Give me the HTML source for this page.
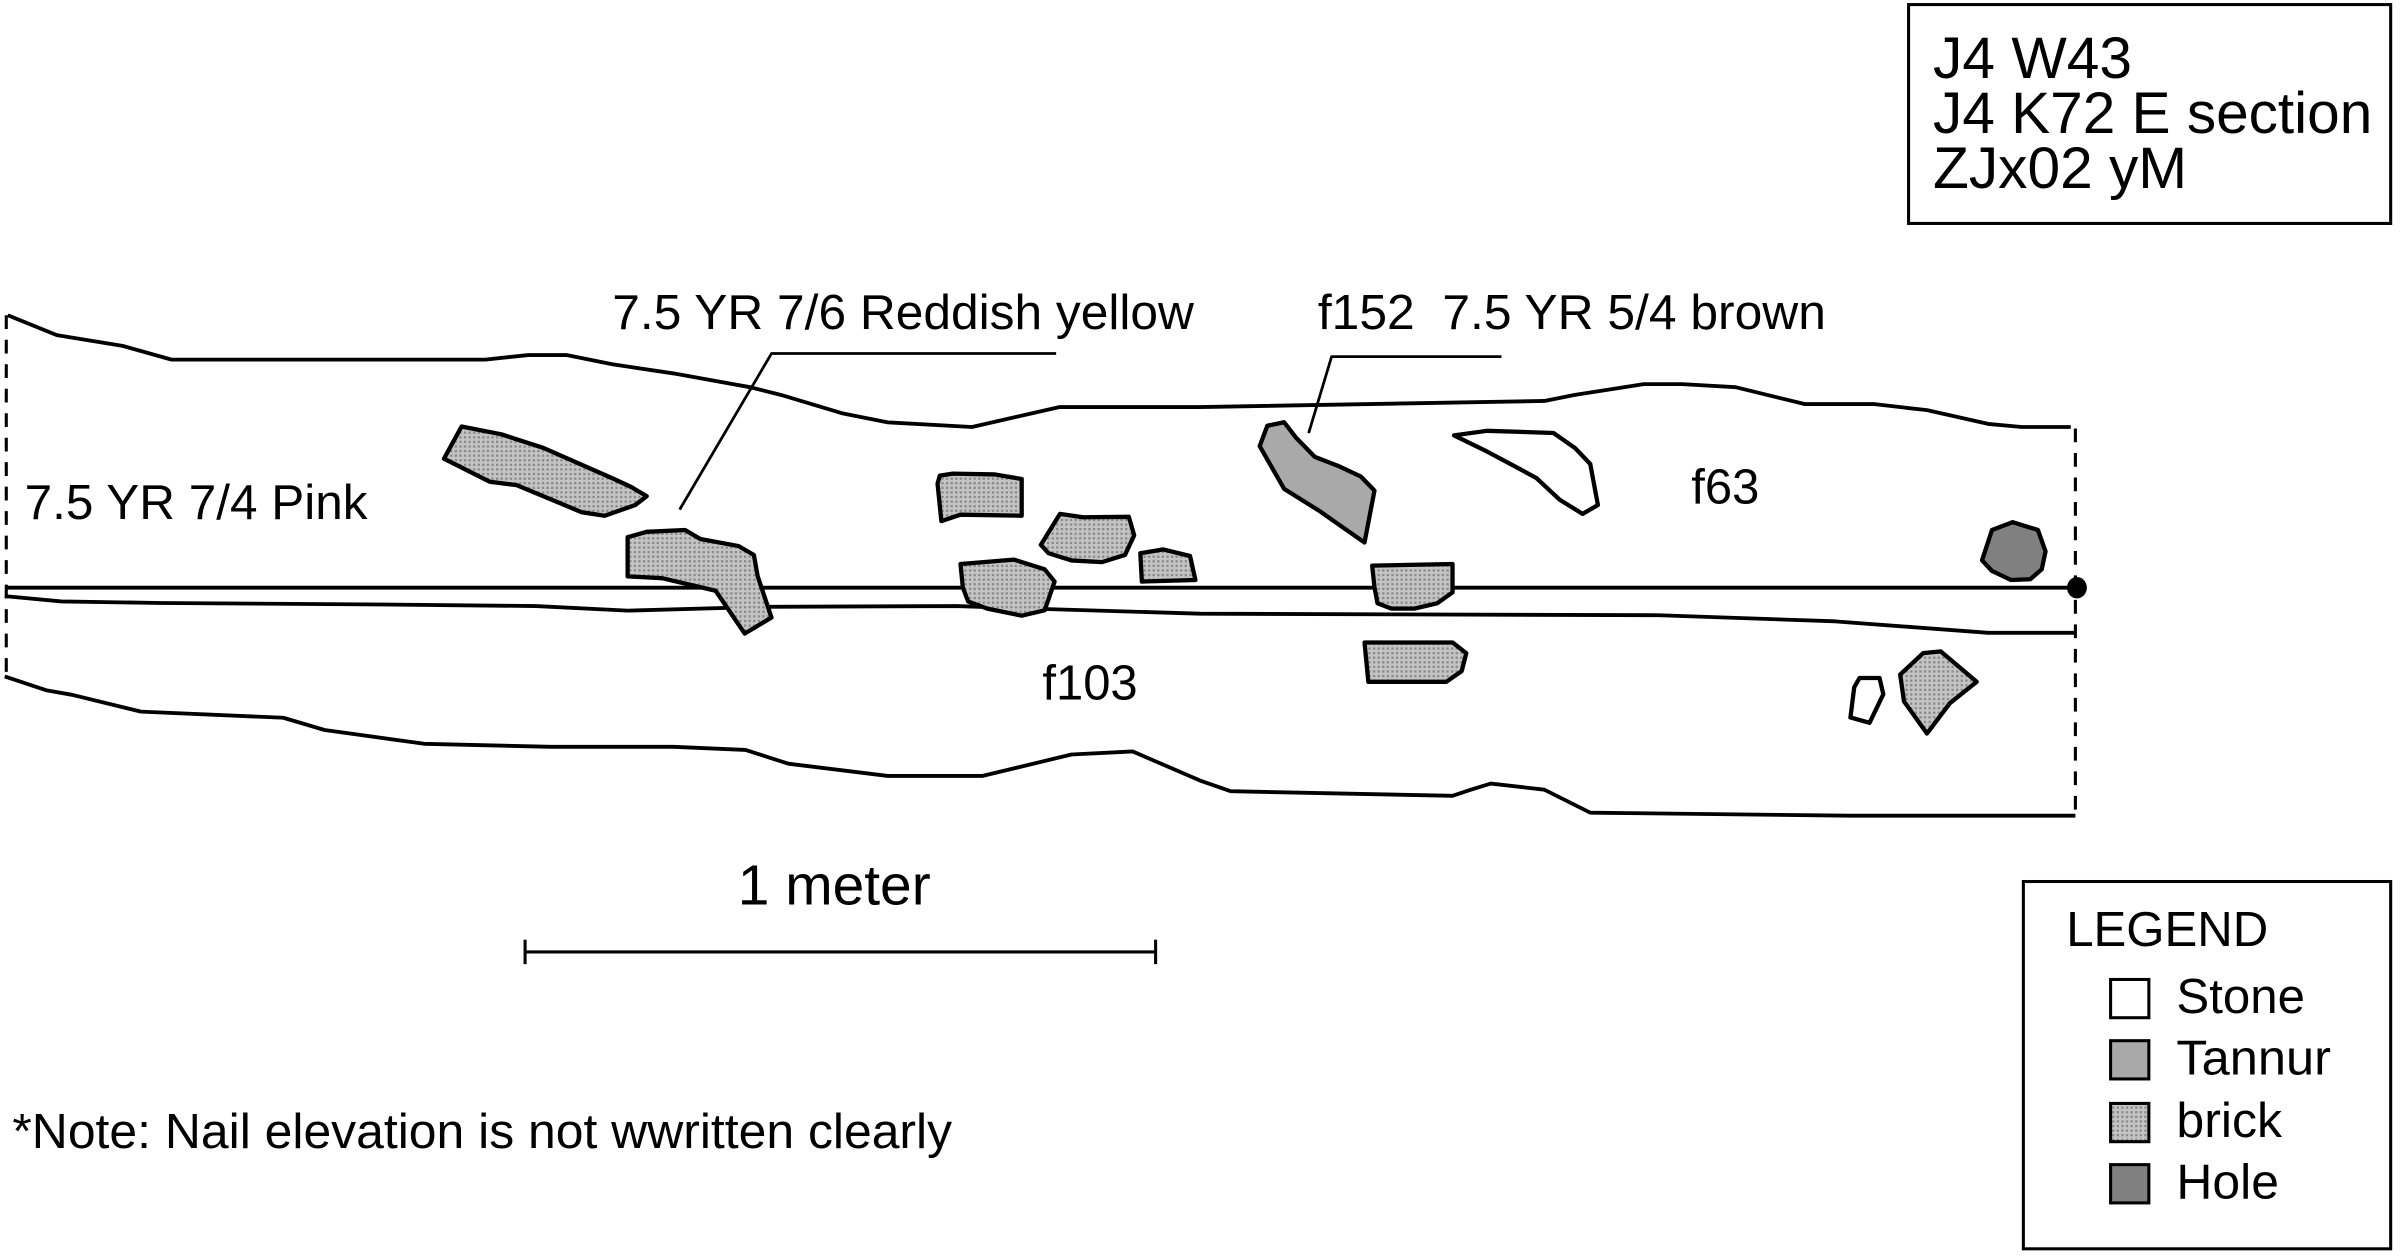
<!DOCTYPE html>
<html><head><meta charset="utf-8"><style>
html,body{margin:0;padding:0;background:#fff;}
svg{display:block;}
text{font-family:"Liberation Sans",Arial,sans-serif;fill:#000;}
</style></head><body>
<svg width="2400" height="1258" viewBox="0 0 1568 822" xmlns="http://www.w3.org/2000/svg">
<defs>
<pattern id="st" width="3" height="3" patternUnits="userSpaceOnUse">
<rect width="3" height="3" fill="#c4c4c4"/><rect width="1.5" height="1.5" fill="#8a8a8a"/>
</pattern>
</defs>
<g fill="none" stroke="#000" stroke-width="2.5" stroke-linejoin="round">
<polyline points="5,206 37,219 80,226 112,235 317,235 345,232 370,232 400,238 440,244 490,253 510,258 550,270 580,276 635,279 692,266 784,266 1009,262 1029,258 1074,251 1099,251 1134,253 1179,264 1224,264 1259,268 1299,277 1321,279 1353,279"/>
<line x1="4" y1="384" x2="1354" y2="384"/>
<polyline points="3,389.5 40,393 105,394 250,395 350,396 410,399 500,396.5 625,396 685,398 784,401 1084,402 1199,406 1299,413.5 1356,413.5"/>
<polyline points="3,442 30,451 47,454 92,465 185,469 212,477 277,486 360,488 440,488 487,490 515,499 580,507 642,507 700,493 740,491 784,510 804,517 949,520 961,516 974,512 1009,516 1039,531 1209,533 1356,533"/>
<polyline points="690,231 504,231 444,333" stroke-width="1.8"/>
<polyline points="981,233 870,233 855,283" stroke-width="1.8"/>
</g>
<g fill="none" stroke="#000" stroke-width="2" stroke-dasharray="9,7">
<line x1="4" y1="206" x2="4" y2="446"/>
<line x1="1356" y1="280" x2="1356" y2="535"/>
</g>
<ellipse cx="1357" cy="384" rx="6.5" ry="7" fill="#000"/>
<g stroke="#000" stroke-width="2.8" stroke-linejoin="round">
<polygon fill="url(#st)" points="301.5,278.7 327.5,283.8 355,292.7 400,312.5 412.5,318.3 422.5,324.2 415,330 395,337 380,334.7 337.5,317 320,314.8 290,299.7"/>
<polygon fill="url(#st)" points="410,351 422.5,347.5 447.5,346.3 457.5,352.2 482.5,356.8 492.5,362.6 495,376.6 504,403.5 486.5,414 467.5,386 432.5,377.8 410,376.6"/>
<polygon fill="url(#st)" points="614,310.8 622.5,309.5 650,310 667.5,313 667.5,337 627.5,336.3 615,340.5 612.5,316"/>
<polygon fill="url(#st)" points="692.5,335.8 707.5,338 737.5,337.7 741,349.8 735,362.6 720,367.3 700,366.2 685,361.5 680,356"/>
<polygon fill="url(#st)" points="745,361.5 760,359 777.5,363.3 781,379 746,380"/>
<polygon fill="url(#st)" points="627.5,368.5 662.5,365.7 682.5,372 689,380 682.5,398.8 667.5,402.3 645,397.7 632.5,393 629,383.7"/>
<polygon fill="#a9a9a9" points="828,278.2 839,275.9 846.5,285.7 859,298.5 874,304.3 889,311.3 898,320.6 891.5,354.5 876.5,344 861.5,333.5 839,319.5 823,291.5"/>
<polygon fill="#fff" points="950,284.5 971.5,281.5 1015,282.9 1029,292.7 1039,303.2 1044,330 1034,335.8 1019,326.5 1004,312.5 989,304.3 971.5,295"/>
<polygon fill="#808080" points="1315,341.2 1331.5,346.3 1336.5,360.3 1334,372 1326.5,378.5 1314,379 1301.5,373.1 1295,366.1 1301.5,346.3"/>
<polygon fill="url(#st)" points="896.5,369.6 949,368.5 949,387.1 939,394.2 924,397.7 909,397.7 900,394.2 898,383.7"/>
<polygon fill="url(#st)" points="891.5,419.8 949,419.8 958,426.8 955,438.5 945,445.5 894,445.5"/>
<polygon fill="#fff" points="1215,443 1228,443 1230.5,453.6 1221.5,472.3 1209,468.8 1211.5,449"/>
<polygon fill="url(#st)" points="1256.5,426.8 1268,425.6 1291.5,445.5 1274,459.5 1259,479.3 1244,458.3 1241.5,440.8"/>
</g>
<rect x="1247" y="3" width="315" height="143" fill="none" stroke="#000" stroke-width="2"/>
<text x="1263" y="51" font-size="38" textLength="130" lengthAdjust="spacingAndGlyphs">J4 W43</text>
<text x="1263" y="87" font-size="38" textLength="287" lengthAdjust="spacingAndGlyphs">J4 K72 E section</text>
<text x="1263" y="123" font-size="38" textLength="166" lengthAdjust="spacingAndGlyphs">ZJx02 yM</text>
<text x="400" y="215" font-size="32" textLength="380" lengthAdjust="spacingAndGlyphs">7.5 YR 7/6 Reddish yellow</text>
<text x="861" y="215" font-size="32" xml:space="preserve" textLength="332" lengthAdjust="spacingAndGlyphs">f152  7.5 YR 5/4 brown</text>
<text x="16" y="339" font-size="32" textLength="224" lengthAdjust="spacingAndGlyphs">7.5 YR 7/4 Pink</text>
<text x="1105" y="329" font-size="32">f63</text>
<text x="681" y="457" font-size="32">f103</text>
<text x="482" y="591" font-size="37" textLength="126" lengthAdjust="spacingAndGlyphs">1 meter</text>
<g stroke="#000" stroke-width="2">
<line x1="343" y1="622" x2="755" y2="622"/>
<line x1="343" y1="614" x2="343" y2="630"/>
<line x1="755" y1="614" x2="755" y2="630"/>
</g>
<text x="8" y="750" font-size="32" textLength="614" lengthAdjust="spacingAndGlyphs">*Note: Nail elevation is not wwritten clearly</text>
<rect x="1322" y="576" width="240" height="240" fill="none" stroke="#000" stroke-width="2"/>
<text x="1350" y="618" font-size="32" textLength="132" lengthAdjust="spacingAndGlyphs">LEGEND</text>
<g stroke="#000" stroke-width="2">
<rect x="1379" y="640" width="25" height="25" fill="#fff"/>
<rect x="1379" y="680" width="25" height="25" fill="#a9a9a9"/>
<rect x="1379" y="721" width="25" height="25" fill="url(#st)"/>
<rect x="1379" y="761" width="25" height="25" fill="#808080"/>
</g>
<text x="1422" y="662" font-size="32" textLength="84" lengthAdjust="spacingAndGlyphs">Stone</text>
<text x="1422" y="702" font-size="32" textLength="101" lengthAdjust="spacingAndGlyphs">Tannur</text>
<text x="1422" y="743" font-size="32" textLength="69" lengthAdjust="spacingAndGlyphs">brick</text>
<text x="1422" y="783" font-size="32" textLength="67" lengthAdjust="spacingAndGlyphs">Hole</text>
</svg>
</body></html>
